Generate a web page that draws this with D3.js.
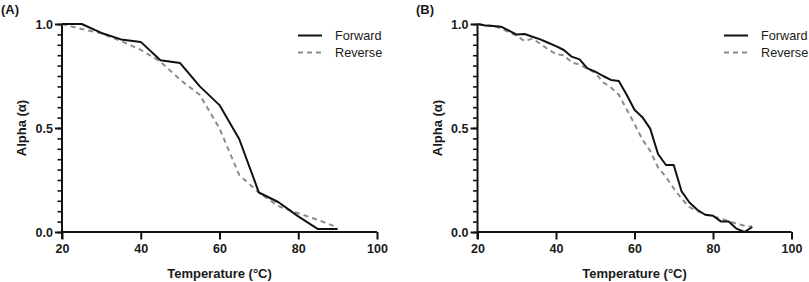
<!DOCTYPE html>
<html>
<head>
<meta charset="utf-8">
<script src="https://cdn.jsdelivr.net/npm/d3@7"></script>
<style>
  body { margin: 0; background: #fff; }
  svg text { font-family: "Liberation Sans", Arial, sans-serif; fill: #1a1a1a; }
</style>
</head>
<body>
<svg id="chart" width="809" height="282"></svg>
<script>
// ---- Data ----
const tempA = [20, 25, 30, 35, 40, 45, 50, 55, 60, 65, 70, 75, 80, 85, 90];
const forwardA = [1.0, 1.0, 0.957, 0.926, 0.914, 0.826, 0.812, 0.70, 0.61, 0.447, 0.19, 0.143, 0.075, 0.014, 0.014];
const reverseA = [1.0, 0.976, 0.955, 0.918, 0.876, 0.819, 0.732, 0.659, 0.498, 0.274, 0.19, 0.124, 0.09, 0.058, 0.022];

const tempB = [20, 22, 24, 26, 28, 30, 32, 34, 36, 38, 40, 42, 44, 46, 48, 50, 52, 54, 56, 58, 60, 62, 64, 66, 68, 70, 72, 74, 76, 78, 80, 82, 84, 86, 88, 90];
const forwardB = [1.0, 0.993, 0.99, 0.987, 0.968, 0.949, 0.952, 0.939, 0.926, 0.91, 0.894, 0.875, 0.843, 0.83, 0.787, 0.771, 0.75, 0.731, 0.726, 0.66, 0.588, 0.552, 0.497, 0.375, 0.322, 0.322, 0.195, 0.142, 0.107, 0.083, 0.078, 0.051, 0.051, 0.016, 0.0, 0.024];
const reverseB = [1.0, 0.995, 0.99, 0.98, 0.96, 0.943, 0.918, 0.93, 0.905, 0.878, 0.855, 0.85, 0.815, 0.805, 0.785, 0.765, 0.72, 0.695, 0.66, 0.59, 0.52, 0.445, 0.39, 0.31, 0.265, 0.21, 0.16, 0.12, 0.10, 0.085, 0.075, 0.065, 0.052, 0.04, 0.03, 0.025];

const xTicks = [20, 40, 60, 80, 100];
const yTicks = [0.0, 0.5, 1.0];
const yMinorTicks = d3.range(0, 21).map(i => i * 0.05);
const seriesNames = ["Forward", "Reverse"];
const panelLabels = ["(A)", "(B)"];

// ---- Drawing ----
const svg = d3.select("#chart");

function drawPanel(cfg) {
  const g = svg.append("g");
  const x = d3.scaleLinear().domain([20, 100]).range([cfg.left, cfg.right]);
  const y = d3.scaleLinear().domain([0, 1]).range([232, 24]);

  // minor y ticks
  g.append("g")
    .attr("transform", `translate(${cfg.left},0)`)
    .call(d3.axisLeft(y).tickValues(yMinorTicks).tickSize(4.5).tickFormat(""))
    .call(a => a.select(".domain").remove())
    .call(a => a.selectAll("line").attr("stroke", "#111").attr("stroke-width", 1.6));

  // major y axis
  g.append("g")
    .attr("transform", `translate(${cfg.left},0)`)
    .call(d3.axisLeft(y).tickValues(yTicks).tickSize(7).tickPadding(2).tickFormat(d3.format(".1f")))
    .call(a => a.select(".domain").attr("d", `M0,${y(1)}V${y(0) + 7}`).attr("stroke", "#111").attr("stroke-width", 2))
    .call(a => a.selectAll("line").attr("stroke", "#111").attr("stroke-width", 2))
    .call(a => a.selectAll("text").attr("font-size", "12.5px").attr("font-weight", "bold").attr("fill", "#1a1a1a")
      .attr("font-family", "Liberation Sans, Arial, sans-serif"));

  // x axis
  g.append("g")
    .attr("transform", `translate(0,${y(0)})`)
    .call(d3.axisBottom(x).tickValues(xTicks).tickSize(7.5).tickPadding(5))
    .call(a => a.select(".domain").attr("d", `M${cfg.left},0H${cfg.right}`).attr("stroke", "#111").attr("stroke-width", 2))
    .call(a => a.selectAll("line").attr("stroke", "#111").attr("stroke-width", 2))
    .call(a => a.selectAll("text").attr("font-size", "12.5px").attr("font-weight", "bold").attr("fill", "#1a1a1a")
      .attr("font-family", "Liberation Sans, Arial, sans-serif"));

  const line = d3.line().x(d => x(d[0])).y(d => y(d[1]));

  g.append("path")
    .datum(cfg.temps.map((t, i) => [t, cfg.rev[i]]))
    .attr("d", line)
    .attr("fill", "none")
    .attr("stroke", "#8c8c8c")
    .attr("stroke-width", 2)
    .attr("stroke-dasharray", "5,4");

  g.append("path")
    .datum(cfg.temps.map((t, i) => [t, cfg.fwd[i]]))
    .attr("d", line)
    .attr("fill", "none")
    .attr("stroke", "#111")
    .attr("stroke-width", 2)
    .attr("stroke-linejoin", "round");

  // axis titles
  g.append("text")
    .attr("x", (cfg.left + cfg.right) / 2)
    .attr("y", 277.5)
    .attr("text-anchor", "middle")
    .attr("font-size", "13px")
    .attr("font-weight", "bold")
    .text("Temperature (°C)");

  g.append("text")
    .attr("transform", `translate(${cfg.left - 36},${y(0.5)}) rotate(-90)`)
    .attr("text-anchor", "middle")
    .attr("font-size", "13px")
    .attr("font-weight", "bold")
    .text("Alpha (α)");

  // panel label
  g.append("text")
    .attr("x", cfg.labelX)
    .attr("y", 13.5)
    .attr("font-size", "13px")
    .attr("font-weight", "bold")
    .text(cfg.label);

  // legend
  const leg = g.append("g");
  const styles = [
    { stroke: "#111", dash: null, y: 35.5 },
    { stroke: "#8c8c8c", dash: "5,4", y: 52.5 }
  ];
  seriesNames.forEach((name, i) => {
    leg.append("line")
      .attr("x1", cfg.legendX).attr("x2", cfg.legendX + 24)
      .attr("y1", styles[i].y).attr("y2", styles[i].y)
      .attr("stroke", styles[i].stroke)
      .attr("stroke-width", 2)
      .attr("stroke-dasharray", styles[i].dash);
    leg.append("text")
      .attr("x", cfg.legendX + 37)
      .attr("y", styles[i].y + 4.5)
      .attr("font-size", "12.7px")
      .text(name);
  });
}

drawPanel({ left: 62, right: 377, temps: tempA, fwd: forwardA, rev: reverseA, label: panelLabels[0], labelX: 1, legendX: 298 });
drawPanel({ left: 477.5, right: 791.5, temps: tempB, fwd: forwardB, rev: reverseB, label: panelLabels[1], labelX: 416, legendX: 724 });
</script>
</body>
</html>
